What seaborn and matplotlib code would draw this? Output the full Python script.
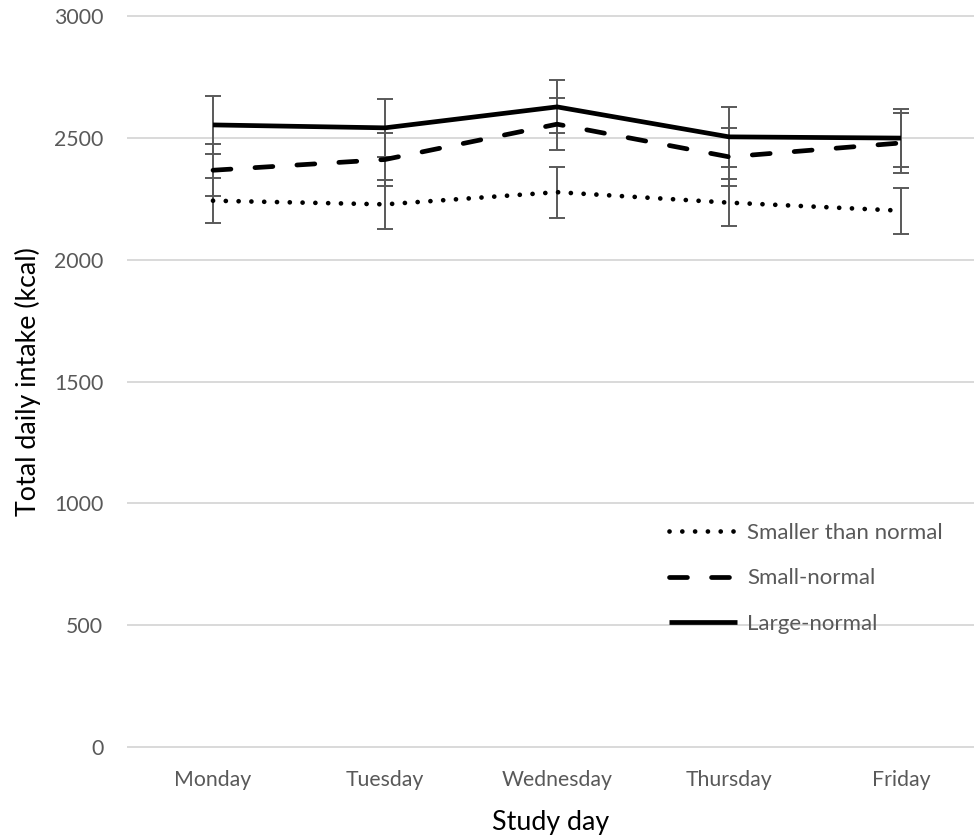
import matplotlib
matplotlib.use("Agg")
import matplotlib.pyplot as plt
import seaborn as sns

# Mean total daily intake (kcal) per study day, with error bar half-widths
days = ["Monday", "Tuesday", "Wednesday", "Thursday", "Friday"]
smaller_than_normal = [2242, 2227, 2277, 2234, 2201]
smaller_err = [93, 100, 104, 96, 95]
small_normal = [2367, 2411, 2556, 2422, 2479]
small_err = [107, 107, 106, 119, 124]
large_normal = [2553, 2541, 2627, 2504, 2499]
large_err = [118, 119, 109, 122, 118]
series_names = ["Smaller than normal", "Small-normal", "Large-normal"]
y_ticks = [0, 500, 1000, 1500, 2000, 2500, 3000]

sns.set_theme(style="white")
plt.rcParams["font.family"] = ["Lato", "DejaVu Sans"]

W, H = 974, 839
fig = plt.figure(figsize=(W / 100, H / 100), dpi=100)
pad = 10  # kcal of headroom so the end gridlines are not clipped
px_per_kcal = (747 - 16) / 3000
top_px = 16 - pad * px_per_kcal
bot_px = 747 + pad * px_per_kcal
left_px, right_px = 127, 974
ax = fig.add_axes([left_px / W, 1 - bot_px / H, (right_px - left_px) / W, (bot_px - top_px) / H])

grey = "#595959"
series = [
    (smaller_than_normal, smaller_err, (0, (0.01, 2.7))),
    (small_normal, small_err, (0, (3.8, 5.1))),
    (large_normal, large_err, "-"),
]

for (vals, errs, ls), name in zip(series, series_names):
    ax.errorbar(range(len(days)), vals, yerr=errs, fmt="none", ecolor=grey,
                elinewidth=1.4, capsize=5.5, capthick=1.4, zorder=2)
    sns.lineplot(x=days, y=vals, ax=ax, color="black", linewidth=3.4,
                 linestyle=ls, dash_capstyle="round", solid_capstyle="butt",
                 label=name, sort=False, zorder=3)

ax.set_ylim(-pad, 3000 + pad)
span = (right_px - left_px) / 172.0
ax.set_xlim(-0.5, -0.5 + span)
ax.set_yticks(y_ticks)
ax.set_yticklabels([str(t) for t in y_ticks])
ax.yaxis.grid(True, color="#d9d9d9", linewidth=1.4)
ax.xaxis.grid(False)
for s in ax.spines.values():
    s.set_visible(False)
ax.tick_params(axis="both", length=0, labelsize=15.3, colors=grey)
ax.tick_params(axis="y", pad=17)
ax.tick_params(axis="x", pad=15)
ax.set_xlabel("Study day", fontsize=19.3, color="black", labelpad=14)
ax.set_ylabel("Total daily intake (kcal)", fontsize=19.3, color="black", labelpad=9)

leg = ax.legend(loc="upper left", bbox_to_anchor=(669 / W, 1 - 523 / H),
                bbox_transform=fig.transFigure, frameon=False, fontsize=16,
                handlelength=3.06, handletextpad=0.45, labelspacing=1.14,
                borderpad=0, borderaxespad=0)
for t in leg.get_texts():
    t.set_color(grey)

fig.savefig("out.png", dpi=100)
